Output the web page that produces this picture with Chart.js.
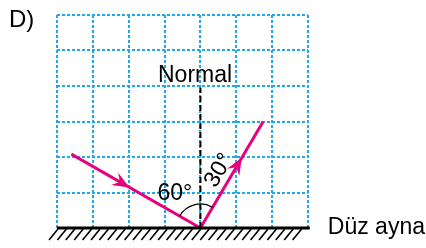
<!DOCTYPE html>
<html>
<head>
<meta charset="utf-8">
<script src="https://cdn.jsdelivr.net/npm/chart.js@4.4.1/dist/chart.umd.min.js"></script>
<style>
  html, body { margin: 0; padding: 0; background: #fff; }
  #wrap { width: 426px; height: 248px; }
</style>
</head>
<body>
<div id="wrap"><canvas id="optik" width="426" height="248"></canvas></div>
<script>
// square grid: 7 columns x 6 rows
var gridCols = 7;
var gridRows = 6;

// rays in grid units, mirror is y = 0
var incidentRay = [{x: 0.4, y: 2.08}, {x: 4, y: 0}];
var reflectedRay = [{x: 4, y: 0}, {x: 5.75, y: 3.0}];
var normalLine = [{x: 4, y: 0}, {x: 4, y: 3.95}];
var mirrorLine = [{x: 0, y: 0}, {x: 7.05, y: 0}];

// where the arrows sit along each ray (0..1)
var arrowAt = [0.45, 0.66];

var angleLabels = ["60°", "30°"];
var normalLabel = "Normal";
var mirrorLabel = "Düz ayna";
var panelLabel = "D)";

var MAGENTA = "#e6007e";
var CYAN = "#1fa9e6";
var FONT = "'Liberation Sans', Arial, sans-serif";

function arrowHead(ctx, x, y, ang) {
    ctx.save();
    ctx.translate(x, y);
    ctx.rotate(ang);
    ctx.beginPath();
    ctx.moveTo(0, 0);
    ctx.lineTo(-17, -7);
    ctx.lineTo(-11, 0);
    ctx.lineTo(-17, 7);
    ctx.closePath();
    ctx.fillStyle = MAGENTA;
    ctx.fill();
    ctx.restore();
}

// Hatching, arrows, arc and texts
var extras = {
    id: "extras",
    afterDatasetsDraw: function (chart) {
        var ctx = chart.ctx;
        var xs = chart.scales.x, ys = chart.scales.y;
        var px = function (v) { return xs.getPixelForValue(v); };
        var py = function (v) { return ys.getPixelForValue(v); };

        // mirror hatching
        var y0 = py(0);
        ctx.save();
        ctx.strokeStyle = "#000";
        ctx.lineWidth = 1.6;
        for (var hx = px(mirrorLine[0].x) + 1; hx <= px(mirrorLine[1].x); hx += 8.4) {
            ctx.beginPath();
            ctx.moveTo(hx, y0 + 1);
            ctx.lineTo(hx - 9, y0 + 12);
            ctx.stroke();
        }
        ctx.restore();

        // arrows
        [incidentRay, reflectedRay].forEach(function (r, i) {
            var ax = px(r[0].x), ay = py(r[0].y), bx = px(r[1].x), by = py(r[1].y);
            var t = arrowAt[i];
            arrowHead(ctx, ax + (bx - ax) * t, ay + (by - ay) * t, Math.atan2(by - ay, bx - ax));
        });

        // angle arc at the reflection point
        var cx = px(incidentRay[1].x), cy = py(incidentRay[1].y);
        var a1 = Math.atan2(py(incidentRay[0].y) - cy, px(incidentRay[0].x) - cx);
        var a2 = Math.atan2(py(reflectedRay[1].y) - cy, px(reflectedRay[1].x) - cx);
        ctx.save();
        ctx.strokeStyle = "#000";
        ctx.lineWidth = 1.2;
        ctx.beginPath();
        ctx.arc(cx, cy, 24, a1, a2, false);
        ctx.stroke();
        ctx.restore();

        // texts
        ctx.save();
        ctx.fillStyle = "#000";
        ctx.font = "23px " + FONT;
        ctx.textAlign = "center";
        ctx.textBaseline = "alphabetic";
        ctx.fillText(normalLabel, px(3.85), py(4.11));
        ctx.textAlign = "left";
        ctx.fillText(angleLabels[0], px(2.8), py(0.79));
        ctx.save();
        ctx.translate(px(4.52), py(1.62));
        ctx.rotate(-Math.PI / 3);
        ctx.textAlign = "center";
        ctx.textBaseline = "middle";
        ctx.fillText(angleLabels[1], 0, 0);
        ctx.restore();
        ctx.fillText(mirrorLabel, px(mirrorLine[1].x) + 18, y0 + 6);
        ctx.font = "24px " + FONT;
        ctx.fillText(panelLabel, 9, 27);
        ctx.restore();
    }
};

function lineSet(pts, color, width, dash) {
    return {
        data: pts,
        showLine: true,
        borderColor: color,
        borderWidth: width,
        borderDash: dash || [],
        pointRadius: 0,
        fill: false,
        clip: false
    };
}

var ctx1 = document.getElementById("optik").getContext("2d");
var chart1 = new Chart(ctx1, {
    type: "scatter",
    data: {
        datasets: [
            lineSet(normalLine, "#000", 2, [6, 3]),
            lineSet(mirrorLine, "#000", 3),
            lineSet(incidentRay, MAGENTA, 3),
            lineSet(reflectedRay, MAGENTA, 3)
        ]
    },
    options: {
        responsive: false,
        animation: false,
        layout: { padding: { left: 57, top: 15, right: 118, bottom: 20 } },
        plugins: { legend: { display: false }, tooltip: { enabled: false } },
        scales: {
            x: {
                type: "linear", min: 0, max: gridCols,
                ticks: { display: false, stepSize: 1 },
                grid: { color: CYAN, lineWidth: 2, drawTicks: false },
                border: { display: false, dash: [3, 2] }
            },
            y: {
                type: "linear", min: 0, max: gridRows,
                ticks: { display: false, stepSize: 1 },
                grid: { color: CYAN, lineWidth: 2, drawTicks: false },
                border: { display: false, dash: [3, 2] }
            }
        }
    },
    plugins: [extras]
});
</script>
</body>
</html>
